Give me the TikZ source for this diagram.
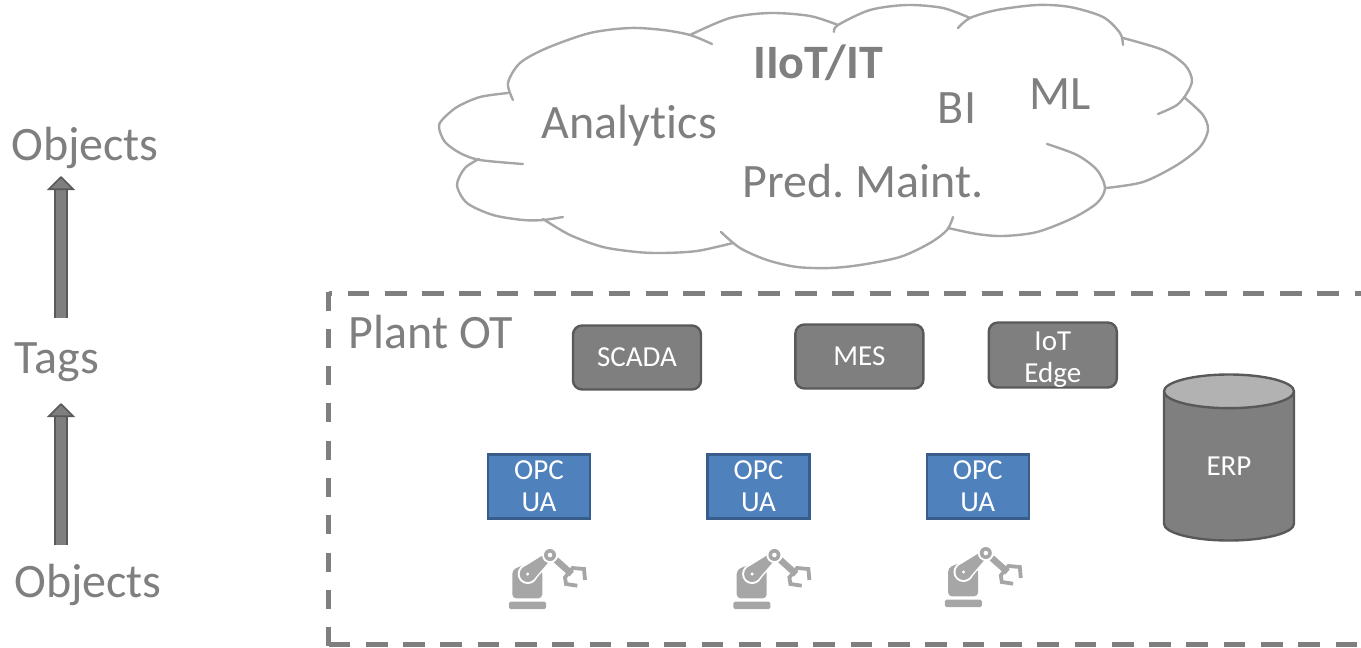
\documentclass[tikz,border=0pt]{standalone}
\usepackage{fontspec}
\setmainfont[Ligatures=NoCommon]{Carlito}
\usepackage{tikz}
\usetikzlibrary{arrows.meta,shapes.geometric,positioning}
\definecolor{plantgray}{HTML}{7F7F7F}
\definecolor{edgegray}{HTML}{595959}
\definecolor{cloudgray}{HTML}{A6A6A6}
\definecolor{opcblue}{HTML}{4F81BD}
\definecolor{opcedge}{HTML}{385D8A}
\tikzset{
  robotarm/.pic={
    \fill[cloudgray, rounded corners=1.5] (-30,82) rectangle (7,89.3);
    \fill[cloudgray, rounded corners=4] (-26.7,78.7) -- (3.3,78.7) -- (3.3,50) -- (-12,44) -- (-26.7,50) -- cycle;
    \draw[white, line width=3, fill=white] (-11.3,54.3) circle (8.5);
    \fill[white] (-13,46) -- (-20,46) -- (-20,42) -- (-2,42) -- cycle;
    \draw[white, line width=3, fill=cloudgray] (-6,60.4) -- (13.3,38) -- (8.7,32.6) -- (-16.5,48.2) -- cycle;
    \fill[cloudgray] (-11.3,54.3) circle (8);
    \fill[cloudgray] (-6,60.4) -- (13.3,38) -- (8.7,32.6) -- (-16.5,48.2) -- cycle;
    \fill[white] (-11.3,54.3) circle (1.7);
    \draw[cloudgray, line width=6.5] (17,40.3) -- (32.7,54.3);
    \fill[white] (11,35.3) circle (8);
    \fill[cloudgray] (11,35.3) circle (6);
    \fill[white] (11,35.3) circle (2.3);
    \draw[cloudgray, line width=3.8] (38.3,66) -- (27,64.3) -- (26,57.7) -- (33.7,48.3) -- (45,49.3) -- (46,60.3);
  }
}
\begin{document}
\begin{tikzpicture}[x=1pt,y=-1pt]
\tikzstyle{bigtext}=[text=plantgray, font=\fontsize{48}{50}\selectfont, inner sep=0pt, anchor=base]
\tikzstyle{system}=[draw=edgegray, line width=2.4pt, fill=plantgray, text=white, rounded corners=9pt, minimum width=128pt, minimum height=64pt, align=center, inner sep=0pt, font=\fontsize{29}{32}\selectfont]
\tikzstyle{opc}=[draw=opcedge, line width=2.4pt, fill=opcblue, text=white, minimum width=102pt, minimum height=64pt, align=center, inner sep=0pt, font=\fontsize{29}{32}\selectfont, execute at begin node=\rule{0pt}{25pt}]
\tikzstyle{database}=[draw=edgegray, line width=2.4pt, shape=cylinder, shape border rotate=90, aspect=.75, cylinder uses custom fill, cylinder body fill=plantgray, cylinder end fill=plantgray!60, minimum width=130pt, minimum height=166pt, text=white, inner sep=0pt, font=\fontsize{29}{32}\selectfont]
\tikzstyle{cloudline}=[draw=cloudgray, line width=2.4pt, line cap=round]
\tikzstyle{plantline}=[plantgray, line width=5pt]
\tikzstyle{lift}=[draw=edgegray, line width=1.6pt, double=plantgray, double distance=10pt, -{Triangle[width=28pt,length=14pt,fill=plantgray]}]
\useasboundingbox (0,0) rectangle (1361,648);

% cloud
\draw[cloudline] plot[smooth] coordinates {(712,44) (690,35) (663,30) (630,28) (590,33) (547,48) (520,63) (508,83) (513,100)};
\draw[cloudline] plot[smooth] coordinates {(508,93) (480,97) (457,107) (442,120) (439,128) (445,142) (460,153) (480,160) (523,164)};
\draw[cloudline] plot[smooth] coordinates {(479,159) (465,168) (457,185) (467,203) (493,215) (523,220) (543,220) (563,217)};
\draw[cloudline] plot[smooth] coordinates {(543,219) (570,235) (603,247) (637,252) (663,253) (697,251) (733,243)};
\draw[cloudline] plot[smooth] coordinates {(721,232) (740,248) (767,260) (797,267) (830,268) (860,265) (900,257) (930,243) (947,230) (953,217)};
\draw[cloudline] plot[smooth] coordinates {(948,228) (977,234) (1003,236) (1037,232) (1073,218) (1097,203) (1105,188) (1097,170) (1077,155) (1047,144)};
\draw[cloudline] plot[smooth] coordinates {(1106,188) (1143,182) (1177,165) (1200,147) (1208,130) (1203,115) (1185,98)};
\draw[cloudline] plot[smooth] coordinates {(1158,114) (1177,105) (1187,93) (1192,80) (1185,65) (1163,50) (1123,38)};
\draw[cloudline] plot[smooth] coordinates {(1123,45) (1120,33) (1103,17) (1070,7) (1037,5) (997,10) (970,18) (958,28)};
\draw[cloudline] plot[smooth] coordinates {(970,18) (943,8) (907,5) (870,10) (838,25) (834,32)};
\draw[cloudline] plot[smooth] coordinates {(838,25) (810,16) (770,13) (730,18) (690,35)};

\node[bigtext] (analytics) at (629.5,138) {Analytics};
\node[bigtext] (iiot) at (818,78) {\textbf{IIoT/IT}};
\node[bigtext] (bi) at (957,123) {BI};
\node[bigtext] (ml) at (1060,109) {ML};
\node[bigtext] (maint) at (863,197) {Pred.\ Maint.};

% plant
\coordinate (cornertop) at (328.5,293.5);
\coordinate (cornerbottom) at (328.5,644);
\draw[plantline, dash pattern=on 21.7pt off 15.6pt, dash phase=18.3pt] (cornertop) -- (1400,293.5);
\draw[plantline, dash pattern=on 19pt off 18.3pt] ([yshift=2pt]cornertop) -- ([yshift=-2.5pt]cornerbottom);
\draw[plantline, dash pattern=on 21.7pt off 15.6pt] (cornerbottom) -- (1400,644);
\node[bigtext] (plant) at (431,348) {Plant OT};

\node[system] (scada) at (637,357.5) {SCADA};
\node[system] (mes) [right=92pt of scada, yshift=1pt] {MES};
\node[system] (edge) [right=63pt of mes, yshift=1.5pt] {\rule{0pt}{28pt}IoT\\Edge};
\node[database, anchor=shape center] (erp) at (1229,457.5) {ERP};

\node[opc] (opc1) at (539,486.5) {OPC\\UA};
\node[opc] (opc2) [right=115pt of opc1] {OPC\\UA};
\node[opc] (opc3) [right=115pt of opc2] {OPC\\UA};
\pic at (opc1.south) {robotarm};
\pic at ([xshift=5pt]opc2.south) {robotarm};
\pic at ([xshift=-3pt,yshift=2pt]opc3.south) {robotarm};

% left column
\node[bigtext] (top) at (85,160) {Objects};
\node[bigtext] (tags) at (57,373) {Tags};
\node[bigtext] (bottom) at (88,597) {Objects};
\draw[lift] ([xshift=4pt,yshift=55pt]tags.base) -- ([xshift=-24pt,yshift=-16pt]top.base);
\draw[lift] ([xshift=-27pt,yshift=52pt]bottom.base) -- ([xshift=4pt,yshift=-30pt]tags.base);
\end{tikzpicture}
\end{document}
